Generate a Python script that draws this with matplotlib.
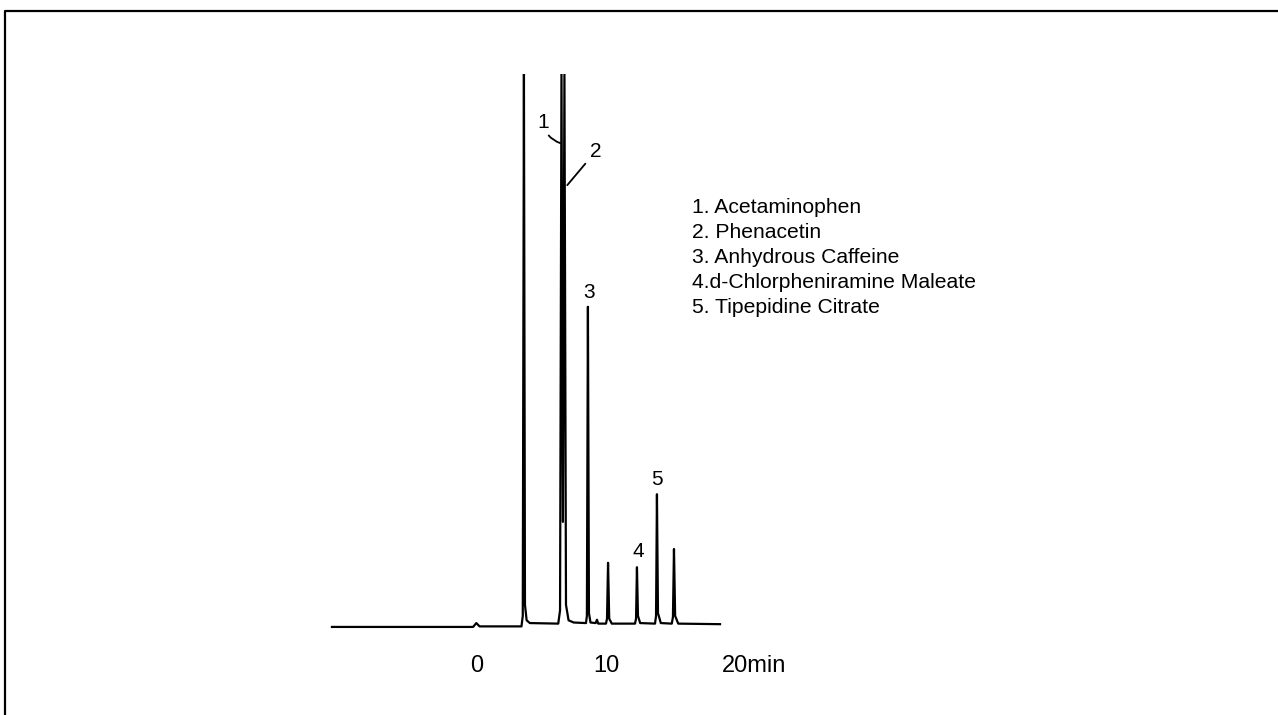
import matplotlib.pyplot as plt
from matplotlib.lines import Line2D

plt.rcParams['font.family'] = ['Liberation Sans', 'DejaVu Sans']

# trace (time in min, signal in % of full scale)
czas = [-11.24, -0.3, -0.05, 0.2, 3.45, 3.55, 3.64, 3.72, 3.85, 4.1,
        6.3, 6.44, 6.55, 6.66, 6.78, 6.9, 7.1, 7.5,
        8.45, 8.52, 8.6, 8.68, 8.8, 9.2, 9.3, 9.4,
        10.0, 10.08, 10.16, 10.25, 10.45,
        12.25, 12.33, 12.4, 12.48, 12.65,
        13.8, 13.88, 13.95, 14.03, 14.25,
        15.1, 15.19, 15.27, 15.36, 15.6, 18.84]
sygnal = [0.0, 0.0, 0.7, 0.1, 0.1, 2.0, 100, 4.0, 1.2, 0.7,
          0.6, 3.0, 100, 19, 100, 4.0, 1.2, 0.8,
          0.7, 2.0, 57.9, 2.5, 0.8, 0.7, 1.3, 0.6,
          0.6, 1.5, 11.6, 1.5, 0.6,
          0.6, 1.5, 10.8, 2.0, 0.7,
          0.6, 2.0, 24.0, 2.5, 0.7,
          0.6, 1.8, 14.1, 2.0, 0.6, 0.5]

tick_pos = [0, 10, 20]
tick_lab = ['0', '10', '20min']

nazwy = ['1. Acetaminophen', '2. Phenacetin', '3. Anhydrous Caffeine',
         '4.d-Chlorpheniramine Maleate', '5. Tipepidine Citrate']

W, H = 1278, 715
fig = plt.figure(figsize=(W / 100, H / 100), dpi=100)

# axes placed so that 0 min sits at x=477px, 10 min at 606px
left_px, right_px, top_px, bot_px = 328.6, 477 + 12.9 * 21, 74, 638
ax = fig.add_axes([left_px / W, 1 - bot_px / H, (right_px - left_px) / W, (bot_px - top_px) / H])
ax.plot(czas, sygnal, color='black', lw=1.6, solid_joinstyle='round')
ax.set_xlim(-11.5, 21)
ax.set_ylim(-2, 100)
ax.axis('off')

for t, lab in zip(tick_pos, tick_lab):
    if lab.endswith('min'):
        ax.annotate(lab, xy=(t, 0), xycoords=('data', 'axes fraction'), xytext=(-9.5, -20),
                    textcoords='offset points', ha='left', va='center', fontsize=17)
    else:
        ax.annotate(lab, xy=(t, 0), xycoords=('data', 'axes fraction'), xytext=(0, -20),
                    textcoords='offset points', ha='center', va='center', fontsize=17)

# peak numbers
ax.annotate('1', xy=(6.45, 87.5), xytext=(5.12, 91.3), ha='center', va='center', fontsize=15,
            arrowprops=dict(arrowstyle='-', lw=1.3, shrinkA=1, shrinkB=0,
                            connectionstyle='arc3,rad=0.3'))
ax.annotate('2', xy=(7.0, 79.9), xytext=(9.2, 86.0), ha='center', va='center', fontsize=15,
            arrowprops=dict(arrowstyle='-', lw=1.3, shrinkA=2, shrinkB=0))
ax.text(8.68, 60.4, '3', ha='center', va='center', fontsize=15)
ax.text(12.48, 13.7, '4', ha='center', va='center', fontsize=15)
ax.text(13.95, 26.6, '5', ha='center', va='center', fontsize=15)

ys = [213, 238, 263, 288, 313]
for y, n in zip(ys, nazwy):
    fig.text(692 / W, 1 - y / H, n, ha='left', va='baseline', fontsize=15.2)

# frame round the figure (cut at right and bottom)
fig.add_artist(Line2D([5 / W, 5 / W, 1.0], [0.0, 1 - 11 / H, 1 - 11 / H],
                      transform=fig.transFigure, color='black', lw=1.6))

plt.savefig('out.png', dpi=100)
